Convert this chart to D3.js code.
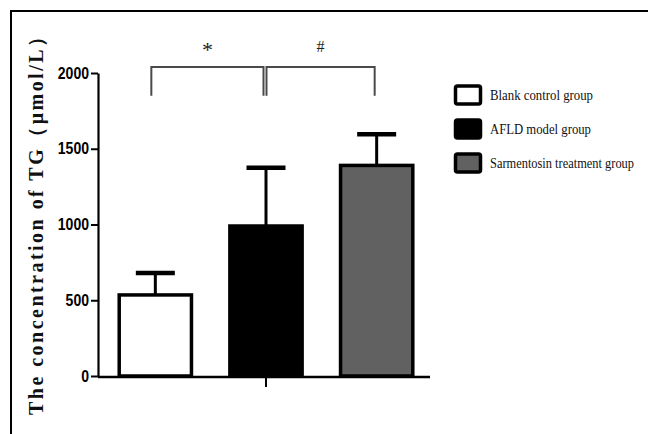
<!DOCTYPE html>
<html><head><meta charset="utf-8">
<script src="https://cdn.jsdelivr.net/npm/d3@7"></script>
<style>html,body{margin:0;padding:0;background:#fff;}svg{display:block;}</style>
</head><body>
<svg id="chart" width="648" height="434"></svg>
<script>
const categories = ["Blank control group", "AFLD model group", "Sarmentosin treatment group"];
const means = [535, 990, 1390];
const sds = [145, 385, 205];
const fills = ["#ffffff", "#000000", "#616161"];
const yTicks = [0, 500, 1000, 1500, 2000];
const yLabel = "The concentration of TG（μmol/L）";
const sigMarks = ["*", "#"];

const svg = d3.select("#chart");
// frame
svg.append("path").attr("d", "M11,434 V11 H648").attr("fill", "none").attr("stroke", "#000").attr("stroke-width", 2);

const y = d3.scaleLinear().domain([0, 2000]).range([376, 73]);
const x = d3.scaleBand().domain(categories).range([100, 432]).paddingInner(0.32).paddingOuter(0.16);

// y axis
const yAxis = svg.append("g").attr("transform", "translate(98,0)")
  .call(d3.axisLeft(y).tickValues(yTicks).tickSize(7).tickSizeOuter(0).tickPadding(2).tickFormat(d3.format("d")));
yAxis.select(".domain").attr("stroke-width", 2.2).attr("stroke", "#000");
yAxis.selectAll(".tick line").attr("stroke-width", 2).attr("stroke", "#000");
yAxis.selectAll(".tick text").attr("font-family", "Liberation Sans, Arial, sans-serif").attr("font-weight", "bold")
  .attr("font-size", 16).attr("fill", "#000")
  .attr("textLength", d => String(d).length * 7.8).attr("lengthAdjust", "spacingAndGlyphs");

// bars
const bw = x.bandwidth();
svg.selectAll("rect.bar").data(categories).join("rect").attr("class", "bar")
  .attr("x", d => x(d) + 1.5).attr("width", bw - 3)
  .attr("y", (d, i) => y(means[i])).attr("height", (d, i) => y(0) - y(means[i]))
  .attr("fill", (d, i) => fills[i]).attr("stroke", "#000").attr("stroke-width", 3.5);

// error bars
categories.forEach((c, i) => {
  const cx = x(c) + bw / 2;
  svg.append("line").attr("x1", cx).attr("x2", cx).attr("y1", y(means[i])).attr("y2", y(means[i] + sds[i]))
    .attr("stroke", "#000").attr("stroke-width", 3);
  svg.append("line").attr("x1", cx - 19.5).attr("x2", cx + 19.5).attr("y1", y(means[i] + sds[i])).attr("y2", y(means[i] + sds[i]))
    .attr("stroke", "#000").attr("stroke-width", 4.5);
});

// x axis
svg.append("line").attr("x1", 98).attr("x2", 430).attr("y1", y(0) + 1).attr("y2", y(0) + 1).attr("stroke", "#000").attr("stroke-width", 2.5);
const mid = x(categories[1]) + bw / 2;
svg.append("line").attr("x1", mid).attr("x2", mid).attr("y1", y(0)).attr("y2", y(0) + 11).attr("stroke", "#000").attr("stroke-width", 2);

// significance brackets
const centers = categories.map(c => x(c) + bw / 2);
const yTop = y(2040), yBot = y(1850);
const br = [[centers[0] - 4, centers[1] - 2.5], [centers[1] + 0.5, centers[2] - 2]];
br.forEach((b, i) => {
  svg.append("path").attr("d", `M${b[0]},${yBot} V${yTop} H${b[1]} V${yBot}`)
    .attr("fill", "none").attr("stroke", "#4a4a4a").attr("stroke-width", 2);
  svg.append("text").attr("x", (b[0] + b[1]) / 2).attr("y", i === 0 ? 57 : 52).attr("text-anchor", "middle")
    .attr("font-family", "Liberation Serif, Times New Roman, serif").attr("font-size", i === 0 ? 22 : 16).attr("fill", "#222")
    .text(sigMarks[i]);
});

// legend
const lg = svg.append("g");
const legendTextLen = [103, 101, 144];
categories.forEach((c, i) => {
  const ly = 86 + i * 34;
  lg.append("rect").attr("x", 455.5).attr("y", ly).attr("width", 25).attr("height", 18).attr("rx", 2)
    .attr("fill", fills[i]).attr("stroke", "#000").attr("stroke-width", 3.5);
  lg.append("text").attr("x", 490).attr("y", ly + 14).attr("font-family", "Liberation Serif, Times New Roman, serif")
    .attr("font-size", 12.5).attr("fill", "#111")
    .attr("transform", `translate(490,0) scale(1,1.12) translate(-490,${-(ly + 14) * 0.12 / 1.12})`)
    .attr("textLength", legendTextLen[i]).attr("lengthAdjust", "spacingAndGlyphs")
    .text(c);
});

// y label
svg.append("text").attr("transform", "translate(43,221) rotate(-90)").attr("text-anchor", "middle")
  .attr("font-family", "Liberation Serif, Times New Roman, serif").attr("font-weight", "bold").attr("font-size", 20)
  .attr("fill", "#111").attr("textLength", 388).attr("lengthAdjust", "spacing")
  .text(yLabel);
</script>
</body></html>
